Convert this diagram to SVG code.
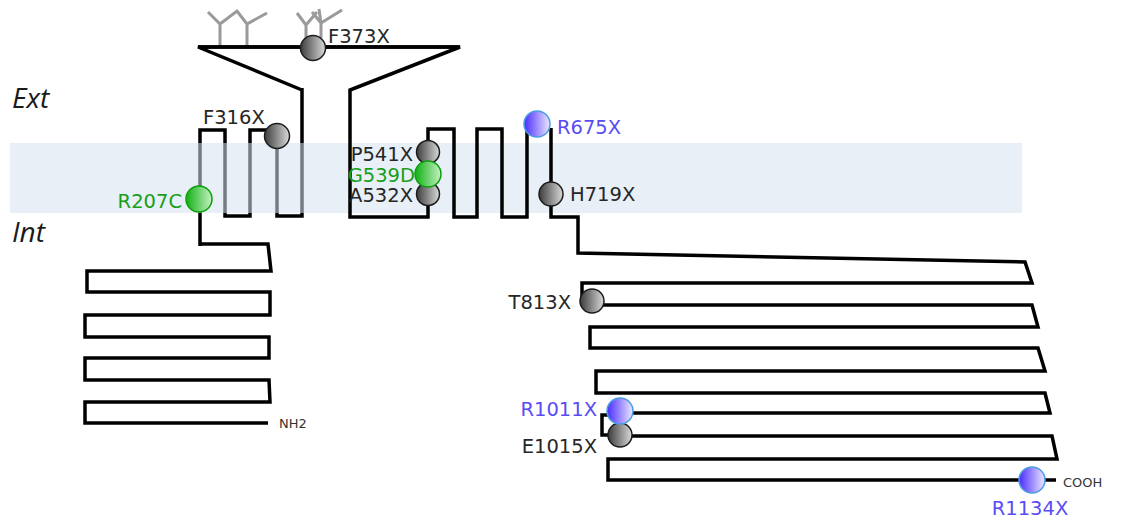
<svg xmlns="http://www.w3.org/2000/svg" width="1126" height="525" viewBox="0 0 1126 525">
  <defs>
    <linearGradient id="gGray" x1="0" y1="0" x2="1" y2="0">
      <stop offset="0" stop-color="#3c3c3c"/>
      <stop offset="1" stop-color="#dadada"/>
    </linearGradient>
    <linearGradient id="gGreen" x1="0" y1="0" x2="1" y2="0">
      <stop offset="0" stop-color="#12b012"/>
      <stop offset="1" stop-color="#c4f2c4"/>
    </linearGradient>
    <linearGradient id="gBlue" x1="0" y1="0" x2="1" y2="0">
      <stop offset="0" stop-color="#4a2cff"/>
      <stop offset="1" stop-color="#ece8ff"/>
    </linearGradient>
    <style>
      .chain { fill: none; stroke: #000; stroke-width: 3.5; stroke-linejoin: miter; stroke-linecap: butt; }
      .glycan { fill: none; stroke: #9a9a9a; stroke-width: 3; stroke-linejoin: miter; }
      .site-gray { fill: url(#gGray); stroke: #1c1c1c; stroke-width: 1.5; }
      .site-green { fill: url(#gGreen); stroke: #0e9e0e; stroke-width: 1.5; }
      .site-blue { fill: url(#gBlue); stroke: #4a9ee0; stroke-width: 1.5; }
      .lbl { font-family: "DejaVu Sans", "Liberation Sans", sans-serif; font-size: 19.5px; fill: #262626; }
      .lbl.green { fill: #17a017; }
      .lbl.blue { fill: #5a4cf5; }
      .end { text-anchor: end; }
      .term { font-family: "DejaVu Sans", "Liberation Sans", sans-serif; font-size: 13px; fill: #333; }
      .side { font-family: "Open Sans", "Liberation Sans", sans-serif; font-size: 28px; font-style: italic; fill: #1a1a1a; }
    </style>
  </defs>

  <rect width="1126" height="525" fill="#fff"/>

  <!-- oligosaccharide trees on the extracellular loop -->
  <g id="glycans">
    <path class="glycan" d="M208,12 L220,24 L237,11 L247,24 L267,13 M220,24 V47 M247,24 V47"/>
    <path class="glycan" d="M297,13 L306,25 L317,12 M312,12 L321,23 L342,10 M319,9 L321,23 M306,25 V40 M321,23 V38"/>
  </g>

  <!-- connectors: the polypeptide chain -->
  <g id="connectors">
    <!-- first transmembrane hairpins, drawn beneath the membrane band -->
    <path class="chain" d="M200,246 V130 H225 V216 H250 V130 H268 M277,136 V216 H302 V88"/>
    <!-- N-terminal cytoplasmic domain -->
    <path class="chain" d="M200,244 H268 L271,271 H87 V292 H270 V315 H85 V337 H269 V358 H85 V380 H269 L270,402 H85 V423 H268"/>
  </g>

  <!-- lipid bilayer -->
  <rect id="membrane" x="10" y="143" width="1012" height="70" fill="#d5e1f0" opacity="0.55"/>

  <g id="connectors-upper">
    <!-- extracellular funnel loop -->
    <path class="chain" d="M302,90 L198,47 H460 L350,90 V217 H428 V129 H454 V217 H477 V129 H502 V217 H527 V128"/>
    <path class="chain" stroke-width="4" d="M198,47 H460"/>
    <!-- C-terminal cytoplasmic domain -->
    <path class="chain" d="M551,128 V217 H578 V253 L1025,262 L1032,283 H582 V300"/>
    <path class="chain" d="M592,305 H1032 L1038,327 H590 V348 H1038 L1045,371 H596 V393 H1045 L1050,413 H620"/>
    <path class="chain" d="M612,415 H602 V435 H620 M620,436 H1052 L1057,459 H608 V480 H1056"/>
  </g>

  <!-- mutation sites -->
  <g id="F373X">
    <circle class="site-gray" cx="313" cy="48" r="12.5"/>
    <text class="lbl" x="328" y="43">F373X</text>
  </g>
  <g id="F316X">
    <circle class="site-gray" cx="277" cy="136" r="12.5"/>
    <text class="lbl" x="203" y="124">F316X</text>
  </g>
  <g id="R207C">
    <circle class="site-green" cx="199" cy="199" r="13"/>
    <text class="lbl green end" x="182" y="208">R207C</text>
  </g>
  <g id="P541X">
    <circle class="site-gray" cx="428" cy="152" r="11.5"/>
    <text class="lbl end" x="413" y="161">P541X</text>
  </g>
  <g id="A532X">
    <circle class="site-gray" cx="428" cy="194" r="11.5"/>
    <text class="lbl end" x="413" y="202">A532X</text>
  </g>
  <g id="G539D">
    <circle class="site-green" cx="428" cy="174" r="13"/>
    <text class="lbl green end" x="415" y="182">G539D</text>
  </g>
  <g id="R675X">
    <circle class="site-blue" cx="537" cy="124" r="13"/>
    <text class="lbl blue" x="557" y="134">R675X</text>
  </g>
  <g id="H719X">
    <circle class="site-gray" cx="551" cy="194" r="12"/>
    <text class="lbl" x="570" y="201">H719X</text>
  </g>
  <g id="T813X">
    <circle class="site-gray" cx="592" cy="301" r="12"/>
    <text class="lbl end" x="571" y="309">T813X</text>
  </g>
  <g id="E1015X">
    <circle class="site-gray" cx="620" cy="435" r="12"/>
    <text class="lbl end" x="597" y="453">E1015X</text>
  </g>
  <g id="R1011X">
    <circle class="site-blue" cx="620" cy="411" r="13"/>
    <text class="lbl blue end" x="597" y="416">R1011X</text>
  </g>
  <g id="R1134X">
    <circle class="site-blue" cx="1032" cy="480" r="13"/>
    <text class="lbl blue" x="1030" y="515" text-anchor="middle">R1134X</text>
  </g>

  <!-- termini -->
  <g id="NH2"><text class="term" x="279" y="428">NH2</text></g>
  <g id="COOH"><text class="term" x="1063" y="487">COOH</text></g>

  <!-- compartment labels -->
  <g id="Ext"><text class="side" x="12" y="108">Ext</text></g>
  <g id="Int"><text class="side" x="12" y="242">Int</text></g>
</svg>
